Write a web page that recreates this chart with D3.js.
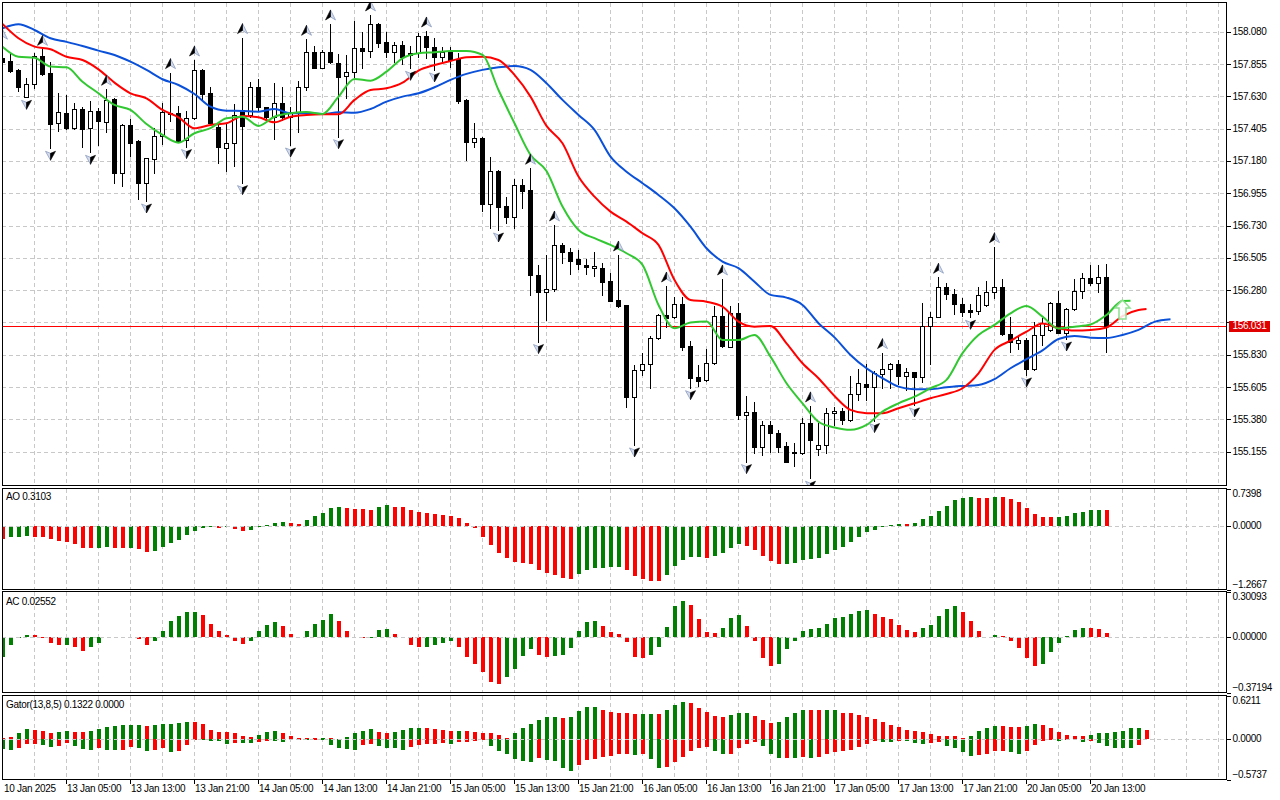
<!DOCTYPE html>
<html>
<head>
<meta charset="utf-8">
<title>Chart</title>
<script src="https://cdn.jsdelivr.net/npm/d3@7/dist/d3.min.js"></script>
<style>
  html, body { margin:0; padding:0; background:#ffffff; }
  svg { display:block; }
  text { font-family: "Liberation Sans", Arial, sans-serif; font-size:10px; letter-spacing:-0.3px; fill:#000; }
</style>
</head>
<body>
<svg id="chart" width="1280" height="800" viewBox="0 0 1280 800"></svg>
<script>
// ================= DATA =================
const opens = [157.895,157.876,157.814,157.628,157.714,157.911,157.795,157.442,157.512,157.412,
157.542,157.407,157.528,157.454,157.609,157.099,157.431,157.319,157.024,157.191,
157.354,157.507,157.512,157.326,157.477,157.814,157.651,157.419,157.268,157.303,
157.535,157.500,157.693,157.554,157.489,157.581,157.484,157.523,157.693,157.937,
157.830,157.937,157.860,157.774,157.802,157.964,157.948,158.134,158.006,157.937,
157.988,157.934,157.930,158.050,157.971,157.902,157.937,157.890,157.605,157.314,
157.342,156.878,157.110,156.866,156.787,157.013,156.978,156.386,156.270,156.286,
156.595,156.544,156.497,156.456,156.435,156.437,156.344,156.212,156.177,155.539,
155.724,155.764,155.945,156.107,156.091,156.184,155.892,155.673,155.655,155.771,
156.100,155.887,156.119,155.411,155.430,155.191,155.341,155.283,155.195,155.151,
155.144,155.353,155.172,155.202,155.423,155.439,155.376,155.555,155.627,155.604,
155.697,155.729,155.764,155.685,155.708,155.678,156.033,156.096,156.300,156.251,
156.182,156.142,156.138,156.177,156.270,156.300,155.973,155.910,155.933,155.729,
155.968,156.003,156.189,155.984,156.147,156.277,156.367,156.333,156.370];
const highs = [158.000,157.930,157.818,157.755,157.934,157.957,157.872,157.656,157.639,157.581,
157.554,157.600,157.547,157.679,157.616,157.435,157.472,157.326,157.203,157.407,
157.581,157.795,157.563,157.528,157.883,157.818,157.693,157.442,157.447,157.577,
158.039,157.732,157.748,157.558,157.725,157.693,157.558,157.739,158.027,157.983,
157.953,158.134,157.925,157.918,158.155,158.076,158.197,158.139,158.076,158.011,
158.016,157.983,158.069,158.085,158.039,157.971,157.971,157.930,157.609,157.442,
157.345,157.210,157.117,156.931,157.054,157.054,157.129,156.456,156.525,156.734,
156.606,156.572,156.560,156.495,156.544,156.467,156.398,156.525,156.180,155.759,
155.840,155.961,156.112,156.309,156.235,156.235,155.926,155.759,155.868,156.170,
156.358,156.170,156.193,155.543,155.504,155.372,155.372,155.307,155.225,155.214,
155.388,155.474,155.353,155.457,155.464,155.457,155.683,155.731,155.766,155.717,
155.845,155.771,155.794,155.736,155.713,156.189,156.131,156.370,156.333,156.286,
156.223,156.184,156.305,156.344,156.583,156.356,156.096,155.968,155.950,156.061,
156.084,156.200,156.275,156.154,156.356,156.402,156.456,156.456,156.462];
const lows = [157.848,157.802,157.670,157.623,157.690,157.779,157.268,157.391,157.403,157.405,
157.280,157.240,157.291,157.384,157.029,157.008,157.217,156.915,156.901,157.099,
157.298,157.461,157.314,157.280,157.472,157.605,157.437,157.168,157.112,157.147,
157.029,157.489,157.535,157.454,157.331,157.465,157.291,157.384,157.674,157.825,
157.825,157.865,157.349,157.621,157.762,157.830,157.906,157.976,157.906,157.872,
157.855,157.825,157.902,157.895,157.814,157.865,157.837,157.586,157.187,157.280,
156.834,156.716,156.699,156.746,156.711,156.850,156.247,155.922,156.073,156.277,
156.472,156.393,156.425,156.393,156.379,156.247,156.205,156.161,155.469,155.202,
155.690,155.597,155.938,156.021,156.084,155.864,155.601,155.613,155.650,155.766,
155.887,155.882,155.381,155.086,155.149,155.132,155.156,155.156,155.081,155.058,
155.137,154.970,155.132,155.149,155.341,155.348,155.369,155.515,155.515,155.372,
155.597,155.597,155.625,155.585,155.481,155.643,155.766,156.091,156.216,156.114,
156.100,156.091,156.114,156.172,156.228,155.968,155.852,155.868,155.690,155.724,
155.899,155.998,155.980,155.940,156.142,156.223,156.316,156.270,155.852];
const closes = [157.872,157.809,157.697,157.714,157.911,157.786,157.437,157.519,157.407,157.542,
157.400,157.528,157.461,157.605,157.099,157.431,157.307,157.029,157.198,157.354,
157.519,157.516,157.321,157.477,157.814,157.646,157.442,157.275,157.303,157.500,
157.426,157.693,157.558,157.484,157.581,157.489,157.523,157.693,157.937,157.830,
157.937,157.872,157.767,157.797,157.964,157.948,158.132,158.004,157.941,157.988,
157.906,157.918,158.050,157.971,157.902,157.941,157.883,157.600,157.314,157.342,
156.878,157.110,156.862,156.787,157.013,156.973,156.386,156.270,156.288,156.595,
156.544,156.486,156.460,156.439,156.449,156.340,156.207,156.172,155.539,155.724,
155.764,155.945,156.107,156.084,156.184,155.887,155.671,155.650,155.771,156.100,
155.894,156.119,155.411,155.430,155.191,155.341,155.283,155.191,155.086,155.144,
155.353,155.237,155.202,155.423,155.439,155.376,155.555,155.632,155.604,155.701,
155.729,155.764,155.685,155.708,155.678,156.033,156.096,156.300,156.251,156.182,
156.131,156.131,156.247,156.270,156.300,155.973,155.922,155.933,155.729,155.968,
156.049,156.189,155.984,156.147,156.275,156.363,156.333,156.374,156.031];

const bidPrice = 156.031;

// Alligator lines, one value every 2 bars (last value at the line's final shifted bar)
const jawPrices = [158.104,158.132,158.092,158.034,158.009,157.981,157.948,157.918,157.871,157.814,
157.749,157.709,157.646,157.558,157.530,157.528,157.523,157.542,157.512,157.512,
157.507,157.519,157.516,157.542,157.593,157.628,157.651,157.693,157.744,157.786,
157.814,157.832,157.841,157.814,157.721,157.605,157.500,157.396,157.210,157.105,
157.025,156.943,156.850,156.722,156.572,156.479,156.433,156.339,156.247,156.228,
156.177,156.050,155.951,155.829,155.736,155.667,155.608,155.590,155.590,155.604,
155.613,155.620,155.660,155.736,155.799,155.860,155.940,155.961,155.949,155.947,
155.968,156.003,156.059,156.077];
const teethPrices = [158.134,158.034,157.976,157.958,157.906,157.883,157.818,157.725,157.651,157.616,
157.535,157.484,157.408,157.431,157.442,157.493,157.484,157.449,157.488,157.500,
157.505,157.505,157.605,157.674,157.686,157.725,157.809,157.848,157.876,157.902,
157.906,157.883,157.779,157.628,157.424,157.303,157.071,156.931,156.827,156.757,
156.676,156.595,156.351,156.212,156.200,156.165,156.061,156.026,156.031,155.910,
155.771,155.667,155.543,155.446,155.423,155.423,155.458,155.492,155.527,155.557,
155.597,155.701,155.864,155.928,155.991,156.048,156.015,155.999,156.003,156.020,
156.100,156.142,156.149];
const lipsPrices = [157.976,157.906,157.899,157.837,157.832,157.732,157.651,157.570,157.535,157.437,
157.361,157.307,157.373,157.408,157.477,157.488,157.424,157.488,157.512,157.521,
157.507,157.628,157.751,157.739,157.802,157.895,157.930,157.937,157.946,157.946,
157.918,157.674,157.442,157.222,157.110,156.862,156.699,156.642,156.595,156.537,
156.456,156.177,156.015,156.054,156.061,155.933,155.933,155.968,155.817,155.632,
155.492,155.364,155.324,155.307,155.341,155.434,155.492,155.538,155.597,155.655,
155.841,155.968,156.038,156.119,156.170,156.096,156.013,156.026,156.041,156.107,
156.205,156.207];
const jawLastBar = 146, teethLastBar = 143, lipsLastBar = 141;

const fractalUpBars = [0,5,13,21,24,30,38,41,46,53,66,69,77,83,90,101,110,117,124];
const fractalDownBars = [3,6,11,18,23,30,36,42,51,54,62,67,79,86,93,101,109,114,121,128,133];

const signalArrow = {bar:140, top:156.212, bottom:156.080};

// price-axis ticks; the one at 156.055 sits under the bid tag, so only its grid line is drawn
const priceTicks = [158.080,157.855,157.630,157.405,157.180,156.955,156.730,156.505,156.280,156.055,155.830,155.605,155.380,155.155];
const hiddenTickLabels = [156.055];

// Awesome Oscillator
const aoValues = [-0.265,-0.232,-0.219,-0.215,-0.219,-0.222,-0.278,-0.311,-0.331,-0.377,
-0.450,-0.452,-0.448,-0.430,-0.450,-0.452,-0.449,-0.477,-0.530,-0.510,
-0.430,-0.351,-0.285,-0.185,-0.113,-0.053,-0.026,-0.053,-0.033,-0.066,
-0.113,-0.086,-0.026,0.020,0.060,0.080,0.060,0.040,0.119,0.199,
0.245,0.344,0.364,0.344,0.325,0.322,0.318,0.377,0.417,0.377,
0.375,0.318,0.278,0.252,0.232,0.219,0.199,0.159,0.046,-0.053,
-0.219,-0.397,-0.550,-0.649,-0.728,-0.748,-0.775,-0.894,-0.947,-0.993,
-1.046,-1.073,-0.974,-0.894,-0.848,-0.847,-0.828,-0.827,-0.894,-1.007,
-1.073,-1.106,-1.108,-0.993,-0.808,-0.695,-0.629,-0.628,-0.649,-0.609,
-0.550,-0.450,-0.371,-0.417,-0.483,-0.609,-0.715,-0.768,-0.762,-0.748,
-0.689,-0.669,-0.649,-0.576,-0.497,-0.430,-0.331,-0.232,-0.132,-0.086,
-0.033,0.013,0.033,0.026,0.060,0.126,0.185,0.285,0.397,0.517,
0.550,0.576,0.556,0.543,0.576,0.574,0.530,0.464,0.358,0.238,
0.179,0.175,0.180,0.199,0.245,0.278,0.305,0.318,0.3103];
const aoState = "rgggrrrrrr"+"rrggrrgrrg"+"gggggggrgr"+"rgggggrrgg"+"gggrrrrggr"+
"rrrrrrrrrr"+"rrrrrrrrrr"+"rrggggggrr"+"rrrgggggrg"+"gggrrrrrgg"+
"gggggggggg"+"gggrgggggg"+"ggrrgrrrrr"+"rrggggggr";
const aoScale = [-1.2667, 0.7398];

// Accelerator Oscillator
const acValues = [-0.139,-0.054,-0.011,0.013,0.012,-0.007,-0.045,-0.058,-0.054,-0.072,
-0.099,-0.072,-0.045,-0.002,0.001,-0.010,-0.005,-0.016,-0.058,-0.027,
0.040,0.103,0.141,0.164,0.168,0.148,0.087,0.040,0.013,-0.027,
-0.047,-0.027,0.036,0.081,0.096,0.074,0.020,-0.004,0.040,0.087,
0.114,0.155,0.108,0.040,-0.004,-0.008,-0.006,0.047,0.054,0.020,
-0.004,-0.054,-0.072,-0.067,-0.054,-0.040,-0.031,-0.067,-0.135,-0.185,
-0.240,-0.303,-0.316,-0.274,-0.220,-0.128,-0.081,-0.121,-0.135,-0.128,
-0.121,-0.074,0.040,0.101,0.108,0.074,0.034,0.020,-0.036,-0.135,
-0.145,-0.121,-0.072,0.067,0.209,0.242,0.215,0.121,0.034,0.027,
0.061,0.128,0.148,0.074,-0.031,-0.141,-0.195,-0.182,-0.085,-0.027,
0.040,0.054,0.061,0.087,0.128,0.135,0.155,0.175,0.182,0.155,
0.135,0.121,0.081,0.047,0.034,0.061,0.081,0.141,0.188,0.209,
0.168,0.108,0.040,-0.004,0.013,0.007,-0.027,-0.074,-0.141,-0.195,
-0.182,-0.105,-0.045,0.007,0.047,0.061,0.060,0.054,0.02552];
const acState = "ggggrrrrgr"+"rggggrgrrg"+"gggggrrrrr"+"rggggrrrgg"+"ggrrrrgggr"+
"rrrggggrrr"+"rrrggggrrg"+"gggggrrrrr"+"rgggggrrrr"+"gggrrrrggg"+
"gggggggggr"+"rrrrrggggg"+"rrrrgrrrrr"+"ggggggrrr";
const acScale = [-0.37194, 0.30093];

// Gator Oscillator (13,8,5)
const gatorUpper = [0.019,0.024,0.081,0.142,0.128,0.114,0.085,0.100,0.114,0.104,
0.100,0.114,0.142,0.175,0.190,0.199,0.201,0.204,0.190,0.199,
0.213,0.218,0.232,0.246,0.242,0.209,0.128,0.100,0.098,0.081,
0.043,0.028,0.062,0.100,0.114,0.081,0.043,0.019,0.014,0.010,
0.012,0.006,0.005,0.028,0.081,0.114,0.147,0.100,0.085,0.100,
0.128,0.156,0.158,0.155,0.142,0.128,0.114,0.115,0.113,0.104,
0.090,0.089,0.062,0.014,0.081,0.156,0.213,0.270,0.313,0.314,
0.299,0.313,0.398,0.455,0.456,0.412,0.384,0.370,0.369,0.356,
0.357,0.358,0.357,0.412,0.483,0.526,0.512,0.441,0.384,0.327,
0.313,0.341,0.370,0.371,0.327,0.270,0.228,0.242,0.313,0.370,
0.412,0.411,0.410,0.411,0.412,0.370,0.369,0.341,0.313,0.284,
0.242,0.199,0.171,0.128,0.114,0.100,0.071,0.043,0.042,0.041,
0.014,0.043,0.109,0.152,0.190,0.189,0.175,0.171,0.190,0.213,
0.199,0.152,0.100,0.057,0.043,0.042,0.057,0.081,0.085,0.100,
0.114,0.156,0.157,0.1322];
const gatorUpperState = "rrggrrrggr"+"rgggggggrg"+"ggggrrrrrr"+"rrgggrrrrr"+"grrggggrrg"+
"gggrrrrgrr"+"rrrrgggggg"+"rggggrrrrr"+"ggrgggrrrr"+"rgggrrrggg"+
"grrggrrrrr"+"rrrrrrrrrr"+"rggggrrrgg"+"rrrrrrgggg"+"gggr";
const gatorLower = [-0.142,-0.156,-0.123,-0.076,-0.071,-0.085,-0.109,-0.095,-0.052,-0.095,
-0.142,-0.156,-0.133,-0.156,-0.157,-0.155,-0.109,-0.123,-0.166,-0.156,
-0.133,-0.194,-0.166,-0.085,-0.014,-0.015,-0.028,-0.029,-0.066,-0.052,
-0.053,-0.054,-0.038,-0.024,-0.025,-0.038,-0.019,-0.014,-0.019,-0.009,
-0.019,-0.081,-0.137,-0.138,-0.152,-0.090,-0.076,-0.095,-0.123,-0.133,
-0.152,-0.114,-0.090,-0.076,-0.066,-0.065,-0.066,-0.047,-0.038,-0.024,
-0.019,-0.095,-0.166,-0.218,-0.294,-0.322,-0.337,-0.280,-0.308,-0.309,
-0.422,-0.460,-0.379,-0.308,-0.294,-0.265,-0.251,-0.223,-0.222,-0.237,
-0.209,-0.294,-0.422,-0.408,-0.337,-0.265,-0.166,-0.123,-0.122,-0.180,
-0.223,-0.209,-0.137,-0.066,-0.038,-0.095,-0.209,-0.280,-0.279,-0.280,
-0.265,-0.280,-0.265,-0.223,-0.194,-0.180,-0.152,-0.109,-0.066,-0.024,
-0.038,-0.039,-0.028,-0.029,-0.052,-0.066,-0.065,-0.038,-0.095,-0.133,
-0.194,-0.251,-0.237,-0.209,-0.180,-0.179,-0.194,-0.209,-0.166,-0.081,
-0.024,-0.014,-0.024,-0.009,-0.019,-0.038,-0.024,-0.052,-0.095,-0.123,
-0.124,-0.128,-0.081,0];
const gatorLowerState = "ggrrrggrrg"+"ggrggrrggr"+"rgrrrggggr"+"ggrrggrrgr"+"gggggrrggg"+
"grrrrrgrrr"+"rggggggrgg"+"ggrrrrrrrg"+"rggrrrrrrg"+"grrrrgggrg"+
"rgrrrrrrrr"+"ggrgggrrgg"+"ggrrrrggrr"+"rrgrggrggg"+"ggrr";
const gatorScale = [-0.5737, 0.6211];

const timeLabelBars = [8,16,24,32,40,48,56,64,72,80,88,96,104,112,120,128,136];
const timeLabels = ["13 Jan 05:00","13 Jan 13:00","13 Jan 21:00","14 Jan 05:00","14 Jan 13:00","14 Jan 21:00",
"15 Jan 05:00","15 Jan 13:00","15 Jan 21:00","16 Jan 05:00","16 Jan 13:00","16 Jan 21:00",
"17 Jan 05:00","17 Jan 13:00","17 Jan 21:00","20 Jan 05:00","20 Jan 13:00"];
const firstDateLabel = "10 Jan 2025";

const aoTitle = "AO 0.3103";
const acTitle = "AC 0.02552";
const gatorTitle = "Gator(13,8,5) 0.1322 0.0000";

// ================= DRAWING =================
const GREEN = "#008000", RED = "#ff0000";
const svg = d3.select("#chart");
const AXIS_X = 1226.5;
const x = d3.scaleLinear().domain([0, 152]).range([2, 1218]);
const px = i => Math.round(x(i));

const panes = {
  main:  {top: 2.5,   bottom: 485.5},
  ao:    {top: 488.5, bottom: 589.5},
  ac:    {top: 591.5, bottom: 692.5},
  gator: {top: 695.5, bottom: 779.5}
};
const yMain  = d3.scaleLinear().domain([155.155, 158.080]).range([451.7, 31.7]);
const yAO    = d3.scaleLinear().domain(aoScale).range([589, 488.5]);
const yAC    = d3.scaleLinear().domain(acScale).range([692, 592]);
const yGator = d3.scaleLinear().domain(gatorScale).range([779, 695.5]);

svg.append("rect").attr("width", 1280).attr("height", 800).attr("fill", "#fff");
const defs = svg.append("defs");
Object.entries(panes).forEach(([k, p]) => {
  defs.append("clipPath").attr("id", "clip-" + k).append("rect")
    .attr("x", 3).attr("y", p.top + 0.5).attr("width", AXIS_X - 3.5).attr("height", p.bottom - p.top - 1);
});

const GRID = "#c8c8c8", DASH = "4,3";
const gridBars = d3.range(4, 153, 4);
const layers = {};
Object.entries(panes).forEach(([k, p]) => {
  const g = svg.append("g").attr("clip-path", `url(#clip-${k})`);
  layers[k] = g;
  g.append("g").attr("shape-rendering", "crispEdges")
    .selectAll("line").data(gridBars).join("line")
    .attr("x1", d => px(d) + 0.5).attr("x2", d => px(d) + 0.5)
    .attr("y1", p.top).attr("y2", p.bottom)
    .attr("stroke", GRID).attr("stroke-dasharray", DASH);
});

// ---- main pane ----
const gm = layers.main;
gm.append("g").attr("shape-rendering", "crispEdges")
  .selectAll("line").data(priceTicks).join("line")
  .attr("x1", 2).attr("x2", AXIS_X)
  .attr("y1", d => Math.round(yMain(d)) + 0.5).attr("y2", d => Math.round(yMain(d)) + 0.5)
  .attr("stroke", GRID).attr("stroke-dasharray", DASH);

const bidY = Math.round(yMain(bidPrice)) + 0.5;
gm.append("line").attr("x1", 2).attr("x2", AXIS_X).attr("y1", bidY).attr("y2", bidY)
  .attr("stroke", RED).attr("stroke-width", 1).attr("shape-rendering", "crispEdges");

const candles = opens.map((o, i) => ({i, o, h: highs[i], l: lows[i], c: closes[i]}));
const cg = gm.append("g").attr("shape-rendering", "crispEdges");
cg.selectAll("line.wick").data(candles).join("line").attr("class", "wick")
  .attr("x1", d => px(d.i) + 0.5).attr("x2", d => px(d.i) + 0.5)
  .attr("y1", d => Math.round(yMain(d.h))).attr("y2", d => Math.round(yMain(d.l)) + 1)
  .attr("stroke", "#000");
cg.selectAll("rect.body").data(candles).join("rect").attr("class", "body")
  .attr("x", d => px(d.i) - 1.5).attr("width", 4)
  .attr("y", d => Math.round(yMain(Math.max(d.o, d.c))) + 0.5)
  .attr("height", d => Math.max(1, Math.round(yMain(Math.min(d.o, d.c))) - Math.round(yMain(Math.max(d.o, d.c)))))
  .attr("fill", d => d.c >= d.o ? "#fff" : "#000").attr("stroke", "#000");

function linePoints(vals, lastBar) {
  return vals.map((v, k) => ({t: Math.min(k * 2, lastBar), v}));
}
const lineGen = d3.line().x(d => x(d.t) + 0.5).y(d => yMain(d.v)).curve(d3.curveMonotoneX);
gm.append("path").datum(linePoints(jawPrices, jawLastBar)).attr("d", lineGen)
  .attr("fill", "none").attr("stroke", "#0a50d8").attr("stroke-width", 2).attr("stroke-linejoin", "round");
gm.append("path").datum(linePoints(teethPrices, teethLastBar)).attr("d", lineGen)
  .attr("fill", "none").attr("stroke", "#ff0000").attr("stroke-width", 2).attr("stroke-linejoin", "round");
gm.append("path").datum(linePoints(lipsPrices, lipsLastBar)).attr("d", lineGen)
  .attr("fill", "none").attr("stroke", "#32c832").attr("stroke-width", 2).attr("stroke-linejoin", "round");

// signal arrow (hollow light green)
{
  const cx = px(signalArrow.bar) + 0.5;
  const t = yMain(signalArrow.top), b = yMain(signalArrow.bottom);
  const hh = 8;
  const p = `M${cx},${t} L${cx + 7.5},${t + hh} L${cx + 3.5},${t + hh} L${cx + 3.5},${b} L${cx - 3.5},${b} L${cx - 3.5},${t + hh} L${cx - 7.5},${t + hh} Z`;
  gm.append("path").attr("d", p).attr("fill", "#ffffff").attr("fill-opacity", 0.85)
    .attr("stroke", "#8fe08f").attr("stroke-width", 1.5).attr("stroke-linejoin", "miter");
}

// fractals: up glyph dark on the left, down glyph dark on the right
const LIGHT = "#d3dbec", EDGE = "#7f92b8";
const fg = gm.append("g");
fractalUpBars.forEach(i => {
  const g = fg.append("g").attr("transform", `translate(${px(i) + 0.5},${yMain(highs[i]) - 9})`);
  g.append("path").attr("d", "M0,-5L5,5L0,2Z").attr("fill", LIGHT).attr("stroke", EDGE).attr("stroke-width", 0.7);
  g.append("path").attr("d", "M0,-5L0,2L-5,5Z").attr("fill", "#000").attr("stroke", "#000").attr("stroke-width", 0.6);
});
fractalDownBars.forEach(i => {
  const g = fg.append("g").attr("transform", `translate(${px(i) + 0.5},${yMain(lows[i]) + 7})`);
  g.append("path").attr("d", "M0,5L0,-2L-5,-4Z").attr("fill", LIGHT).attr("stroke", EDGE).attr("stroke-width", 0.7);
  g.append("path").attr("d", "M0,5L5,-4L0,-2Z").attr("fill", "#000").attr("stroke", "#000").attr("stroke-width", 0.6);
});

// ---- indicator panes ----
function drawHist(layer, y, values, state) {
  const y0 = y(0);
  layer.append("g").attr("shape-rendering", "crispEdges")
    .selectAll("rect").data(values.map((v, i) => ({i, v, s: state[i]}))).join("rect")
    .attr("x", d => px(d.i) - 1).attr("width", 4)
    .attr("y", d => Math.round(Math.min(y0, y(d.v))))
    .attr("height", d => Math.max(0, Math.round(Math.max(y0, y(d.v))) - Math.round(Math.min(y0, y(d.v)))))
    .attr("fill", d => d.s === "g" ? GREEN : RED);
}
function zeroLine(layer, y) {
  const yy = Math.round(y(0)) + 0.5;
  layer.append("line").attr("x1", 2).attr("x2", AXIS_X).attr("y1", yy).attr("y2", yy)
    .attr("stroke", GRID).attr("stroke-dasharray", DASH).attr("shape-rendering", "crispEdges");
}
drawHist(layers.ao, yAO, aoValues, aoState);
zeroLine(layers.ao, yAO);
drawHist(layers.ac, yAC, acValues, acState);
zeroLine(layers.ac, yAC);
drawHist(layers.gator, yGator, gatorUpper, gatorUpperState);
drawHist(layers.gator, yGator, gatorLower, gatorLowerState);
zeroLine(layers.gator, yGator);

// ---- frames ----
const frame = svg.append("g").attr("shape-rendering", "crispEdges").attr("stroke", "#000").attr("fill", "none");
Object.values(panes).forEach(p => {
  frame.append("rect").attr("x", 2.5).attr("y", p.top).attr("width", AXIS_X - 2.5).attr("height", p.bottom - p.top);
});

// ---- price axis ----
const axis = svg.append("g");
function axisTick(tickY) {
  axis.append("line").attr("x1", AXIS_X).attr("x2", AXIS_X + 4)
    .attr("y1", Math.round(tickY) + 0.5).attr("y2", Math.round(tickY) + 0.5)
    .attr("stroke", "#000").attr("shape-rendering", "crispEdges");
}
function axisLabel(y, txt, tickY) {
  axisTick(tickY);
  axis.append("text").attr("x", 1232.5).attr("y", y).attr("dy", "0.35em").text(txt);
}
priceTicks.forEach(p => {
  if (hiddenTickLabels.includes(p)) { axisTick(yMain(p)); return; }
  axisLabel(yMain(p), d3.format(".3f")(p), yMain(p));
});

// bid tag
axis.append("rect").attr("x", 1229).attr("y", Math.round(yMain(bidPrice)) - 5.5).attr("width", 41).attr("height", 11)
  .attr("fill", "#e00000").attr("shape-rendering", "crispEdges");
axis.append("text").attr("x", 1232.5).attr("y", yMain(bidPrice)).attr("dy", "0.35em")
  .style("fill", "#fff").text(d3.format(".3f")(bidPrice));

// indicator axes
function indicatorAxis(pane, y, dom, fmt) {
  axisLabel(pane.top + 5, fmt(dom[1]), pane.top);
  axisLabel(y(0), fmt(0), y(0));
  axisLabel(pane.bottom - 5.5, fmt(dom[0]), pane.bottom);
}
indicatorAxis(panes.ao, yAO, aoScale, d3.format(".4f"));
indicatorAxis(panes.ac, yAC, acScale, d3.format(".5f"));
indicatorAxis(panes.gator, yGator, gatorScale, d3.format(".4f"));

// pane titles
svg.append("text").attr("x", 6).attr("y", 496.7).attr("dy", "0.35em").text(aoTitle);
svg.append("text").attr("x", 6).attr("y", 601.7).attr("dy", "0.35em").text(acTitle);
svg.append("text").attr("x", 6).attr("y", 704.3).attr("dy", "0.35em").text(gatorTitle);

// ---- time axis ----
const ta = svg.append("g");
ta.append("text").attr("x", 4).attr("y", 788.5).attr("dy", "0.35em").text(firstDateLabel);
timeLabelBars.forEach((b, k) => {
  ta.append("line").attr("x1", px(b) + 0.5).attr("x2", px(b) + 0.5).attr("y1", 779.5).attr("y2", 783.5)
    .attr("stroke", "#000").attr("shape-rendering", "crispEdges");
  ta.append("text").attr("x", px(b) + 1).attr("y", 788.5).attr("dy", "0.35em").text(timeLabels[k]);
});
</script>
</body>
</html>
